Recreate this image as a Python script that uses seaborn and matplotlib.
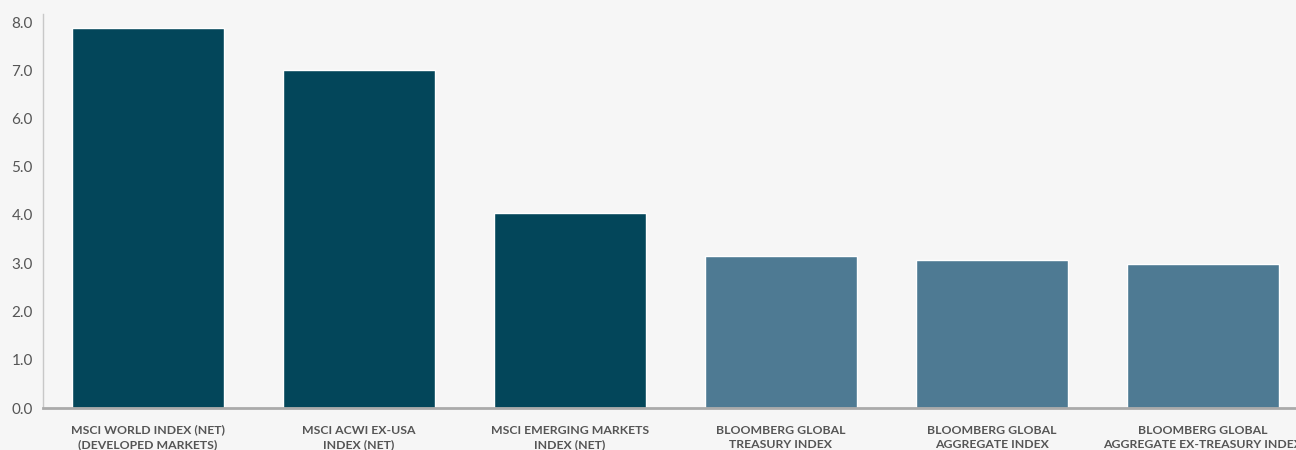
import matplotlib
matplotlib.use("Agg")
import matplotlib.pyplot as plt
import seaborn as sns
import pandas as pd

categories = [
    "MSCI WORLD INDEX (NET)\n(DEVELOPED MARKETS)",
    "MSCI ACWI EX-USA\nINDEX (NET)",
    "MSCI EMERGING MARKETS\nINDEX (NET)",
    "BLOOMBERG GLOBAL\nTREASURY INDEX",
    "BLOOMBERG GLOBAL\nAGGREGATE INDEX",
    "BLOOMBERG GLOBAL\nAGGREGATE EX-TREASURY INDEX",
]
values = [7.88, 7.0, 4.04, 3.15, 3.07, 2.98]
groups = ["Equity", "Equity", "Equity", "Bond", "Bond", "Bond"]
yticks = [0, 1, 2, 3, 4, 5, 6, 7, 8]
ytick_labels = ["0.0", "1.0", "2.0", "3.0", "4.0", "5.0", "6.0", "7.0", "8.0"]

palette = {"Equity": "#03465A", "Bond": "#4E7A93"}

sns.set_theme(style="white")
plt.rcParams["font.family"] = ["Lato", "DejaVu Sans"]

df = pd.DataFrame({"cat": categories, "val": values, "grp": groups})

bg = "#F6F6F6"
fig = plt.figure(figsize=(12.96, 4.5), dpi=100, facecolor=bg)
ax = fig.add_axes([42.5 / 1296, 42 / 450, 1266 / 1296, 394 / 450])
ax.set_facecolor(bg)

sns.barplot(data=df, x="cat", y="val", hue="grp", palette=palette, dodge=False,
            width=0.725, ax=ax, legend=False, saturation=1)

ax.set_xlim(-0.5, 5.5)
ax.set_ylim(0, 394 / 48.25)
ax.set_yticks(yticks)
ax.set_yticklabels(ytick_labels)
ax.set_xlabel("")
ax.set_ylabel("")

ax.tick_params(axis="y", length=0, pad=7, labelsize=11, labelcolor="#555555")
ax.tick_params(axis="x", length=0, pad=12, labelcolor="#555555")
for lbl in ax.get_xticklabels():
    lbl.set_fontsize(8.8)
    lbl.set_fontweight("bold")
    lbl.set_linespacing(1.4)

for s in ["top", "right"]:
    ax.spines[s].set_visible(False)
ax.spines["left"].set_color("#C8C8C8")
ax.spines["left"].set_linewidth(1)
ax.spines["bottom"].set_color("#AAAAAA")
ax.spines["bottom"].set_linewidth(2)

fig.savefig("out.png", dpi=100, facecolor=bg)
